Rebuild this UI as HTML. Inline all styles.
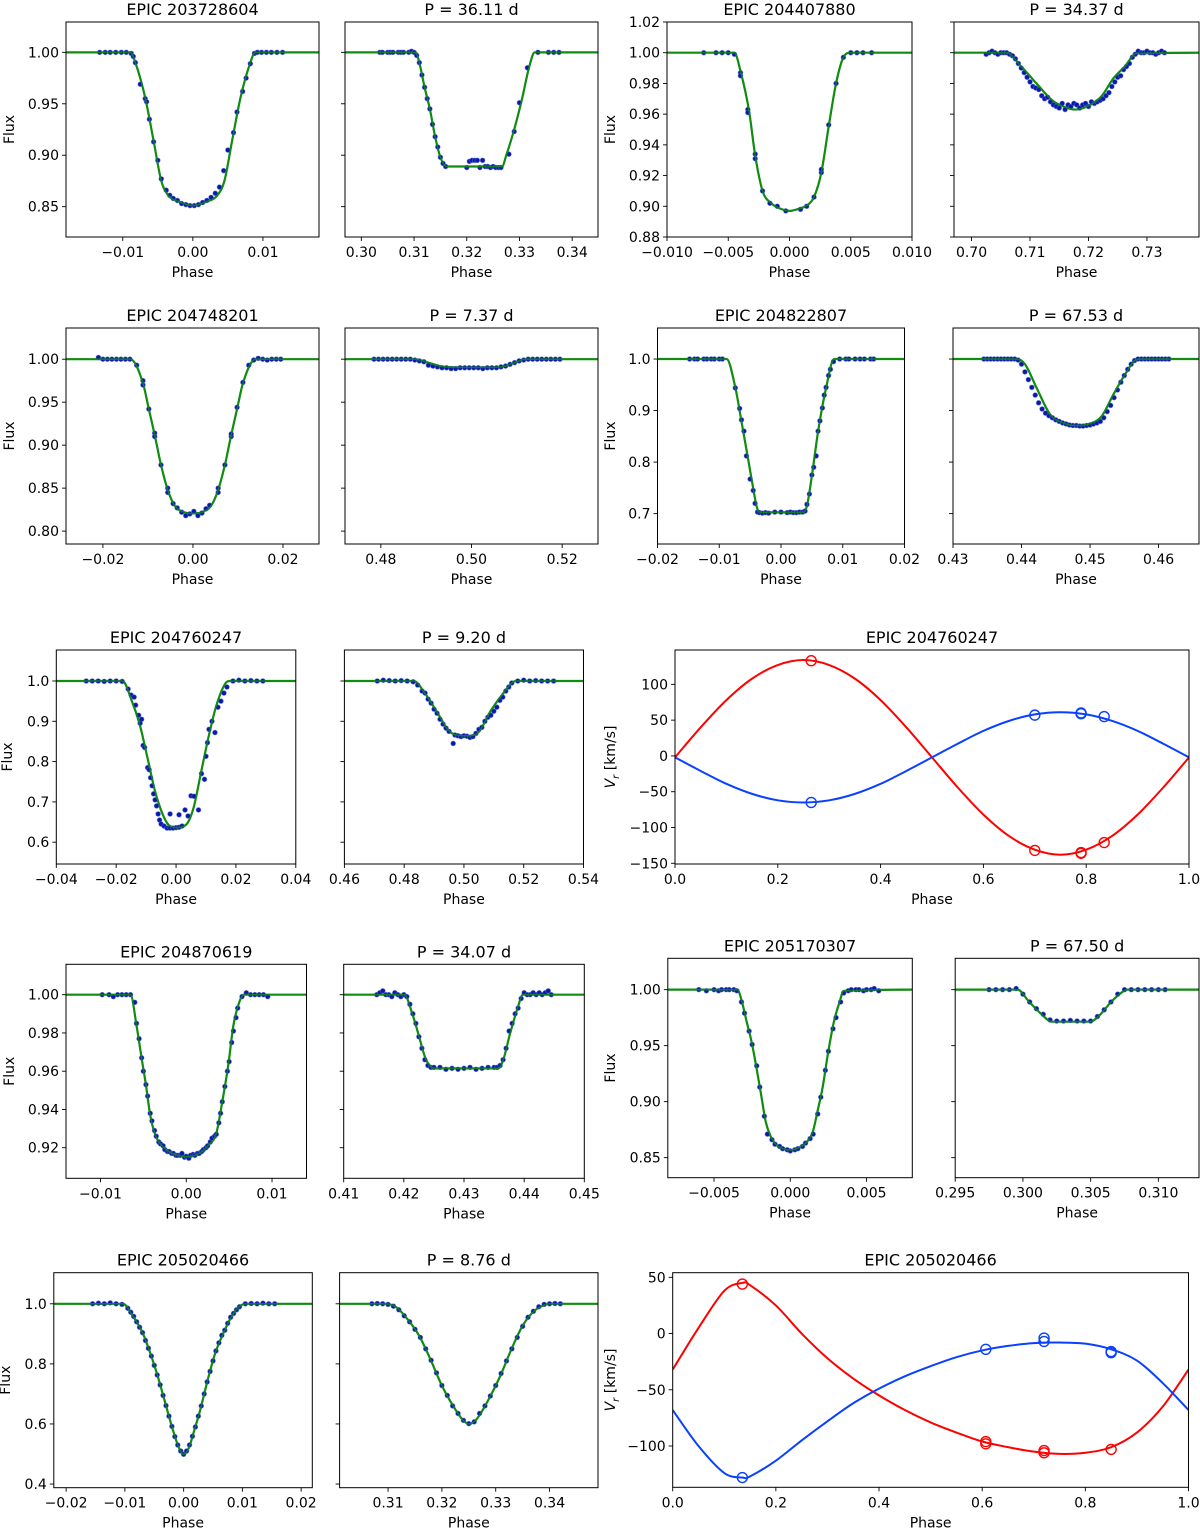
<!DOCTYPE html>
<html><head><meta charset="utf-8">
<style>
html,body{margin:0;padding:0;background:#fff;}
svg{display:block;font-family:"DejaVu Sans","Liberation Sans",sans-serif;}
</style></head>
<body>
<svg id="fig" xmlns="http://www.w3.org/2000/svg" width="1200" height="1530" viewBox="0 0 1200 1530"></svg>
<script>
// ---------- DATA ----------
const p1ModelX=[-0.0181,-0.0089,-0.0082,-0.0068,-0.0056,-0.0045,-0.0035,-0.002,0,0.002,0.0035,0.0045,0.0056,0.0068,0.0082,0.0089,0.0180];
const p1ModelY=[1,1,0.99,0.956,0.914,0.875,0.861,0.855,0.851,0.855,0.861,0.875,0.914,0.956,0.99,1,1];
const p1DataX=[-0.0133,-0.0125,-0.0118,-0.011,-0.0102,-0.0095,-0.0088,-0.0085,-0.0082,-0.0075,-0.0068,-0.0066,-0.0062,-0.0056,-0.005,-0.0045,-0.0038,-0.0033,-0.0028,-0.0022,-0.0016,-0.001,-0.0004,0.0002,0.0008,0.0014,0.002,0.0026,0.0032,0.0038,0.0044,0.005,0.0058,0.0063,0.0071,0.0076,0.0082,0.0088,0.0092,0.0098,0.0105,0.0112,0.0120,0.0128];
const p1DataY=[1,1,1,1,1,1,0.999,0.996,0.99,0.969,0.955,0.952,0.935,0.913,0.895,0.877,0.866,0.861,0.858,0.856,0.853,0.852,0.851,0.851,0.852,0.854,0.856,0.859,0.863,0.869,0.885,0.905,0.922,0.942,0.962,0.975,0.989,0.999,1,1,1,1,1,1];

const p2ModelX=[0.2969,0.3103,0.311,0.312,0.313,0.314,0.315,0.3162,0.3267,0.3275,0.329,0.3305,0.3318,0.3329,0.3449];
const p2ModelY=[1,1,0.99,0.966,0.945,0.918,0.898,0.889,0.889,0.9,0.925,0.955,0.985,1,1];
const p2DataX=[0.3035,0.304,0.305,0.3055,0.306,0.307,0.3075,0.308,0.309,0.3095,0.31,0.3105,0.311,0.3115,0.312,0.3125,0.313,0.3135,0.314,0.3145,0.315,0.3155,0.316,0.32,0.3205,0.321,0.3215,0.322,0.3225,0.323,0.3235,0.324,0.3245,0.325,0.3255,0.326,0.3265,0.328,0.329,0.33,0.3315,0.3335,0.3355,0.3365,0.3375];
const p2DataY=[1,1,1,1,1,1,1,1,1,1.001,1,0.997,0.99,0.978,0.966,0.955,0.945,0.93,0.918,0.908,0.898,0.892,0.889,0.888,0.894,0.895,0.895,0.895,0.888,0.895,0.889,0.889,0.888,0.889,0.888,0.888,0.888,0.901,0.923,0.951,0.985,1,1,1,1];

const p3ModelX=[-0.01,-0.0045,-0.004,-0.0033,-0.0028,-0.0022,-0.0015,-0.0006,0,0.0006,0.0015,0.002,0.0026,0.0032,0.0038,0.0044,0.005,0.01];
const p3ModelY=[1,1,0.988,0.962,0.933,0.91,0.902,0.898,0.897,0.898,0.901,0.906,0.922,0.952,0.98,0.997,1,1];
const p3DataX=[-0.007,-0.006,-0.0055,-0.005,-0.0045,-0.004,-0.004,-0.0034,-0.0034,-0.0028,-0.0028,-0.0022,-0.0016,-0.001,-0.0003,0.0009,0.0014,0.002,0.0026,0.0026,0.0032,0.0038,0.0044,0.005,0.0055,0.006,0.0067];
const p3DataY=[1,1,1,1,0.999,0.987,0.985,0.963,0.961,0.934,0.931,0.91,0.902,0.9,0.897,0.898,0.9,0.906,0.922,0.924,0.953,0.98,0.997,1,1,1,1];

const p4ModelX=[0.697,0.7059,0.7085,0.7111,0.7138,0.7157,0.7177,0.7203,0.7223,0.7242,0.7262,0.7282,0.7389];
const p4ModelY=[1,1,0.991,0.980,0.969,0.965,0.963,0.966,0.972,0.983,0.991,0.9995,1];
const p4DataX=[0.7025,0.703,0.7035,0.704,0.7045,0.705,0.7055,0.706,0.7065,0.707,0.7075,0.708,0.7085,0.709,0.7095,0.71,0.7105,0.711,0.7115,0.712,0.7125,0.713,0.7135,0.714,0.7145,0.715,0.7155,0.716,0.7165,0.717,0.7175,0.718,0.7185,0.719,0.7195,0.72,0.7205,0.721,0.7215,0.722,0.7225,0.723,0.7235,0.724,0.7245,0.725,0.7255,0.726,0.7265,0.727,0.7275,0.728,0.7285,0.729,0.7295,0.73,0.7305,0.731,0.7315,0.732,0.7325,0.733];
const p4DataY=[0.999,1,1.001,1,0.999,1,1,1,0.999,0.998,0.996,0.993,0.99,0.987,0.984,0.981,0.978,0.977,0.976,0.972,0.97,0.971,0.968,0.966,0.965,0.964,0.967,0.963,0.966,0.965,0.967,0.966,0.964,0.966,0.967,0.965,0.968,0.967,0.968,0.969,0.97,0.972,0.974,0.978,0.981,0.984,0.985,0.989,0.991,0.993,0.997,0.999,1.001,1,1,1.001,1,1,0.999,1,1.001,1];

const p5ModelX=[-0.0282,-0.0139,-0.0111,-0.0098,-0.0085,-0.0071,-0.0056,-0.0041,-0.002,0,0.002,0.0041,0.0056,0.0071,0.0085,0.0098,0.0111,0.0139,0.028];
const p5ModelY=[1,1,0.972,0.942,0.912,0.877,0.848,0.830,0.822,0.8206,0.822,0.830,0.848,0.877,0.912,0.942,0.972,1,1];
const p5DataX=[-0.021,-0.02,-0.019,-0.018,-0.017,-0.016,-0.015,-0.014,-0.0125,-0.0111,-0.0111,-0.0098,-0.0085,-0.0085,-0.0071,-0.0056,-0.0056,-0.0044,-0.0035,-0.0025,-0.0016,-0.0007,0.0002,0.0011,0.002,0.0029,0.0037,0.0056,0.0056,0.0071,0.0085,0.0085,0.0098,0.0111,0.0124,0.0135,0.0145,0.0155,0.0165,0.0175,0.0185,0.0195];
const p5DataY=[1.002,1,1,1,1,1,1,1,0.993,0.975,0.97,0.942,0.914,0.91,0.877,0.85,0.845,0.832,0.827,0.822,0.818,0.82,0.823,0.818,0.821,0.826,0.83,0.85,0.845,0.877,0.91,0.913,0.944,0.973,0.993,0.999,1.001,1,0.999,1,1,1];

const p6ModelX=[0.4721,0.4875,0.4905,0.4935,0.497,0.504,0.507,0.5095,0.512,0.5279];
const p6ModelY=[1,1,0.996,0.9915,0.9905,0.9905,0.9915,0.996,1,1];
const p6DataX=[0.4785,0.4795,0.4805,0.4815,0.4825,0.4835,0.4845,0.4855,0.4865,0.4875,0.4885,0.4895,0.4905,0.4915,0.4925,0.4935,0.4945,0.4955,0.4965,0.4975,0.4985,0.4995,0.5005,0.5015,0.5025,0.5035,0.5045,0.5055,0.5065,0.5075,0.5085,0.5095,0.5105,0.5115,0.5125,0.5135,0.5145,0.5155,0.5165,0.5175,0.5185,0.5195];
const p6DataY=[1,1,1,1,1,1,1,1,1,0.999,0.998,0.997,0.993,0.992,0.991,0.99,0.99,0.989,0.989,0.99,0.99,0.99,0.99,0.99,0.989,0.99,0.99,0.99,0.991,0.992,0.994,0.996,0.998,0.999,1,1,1,1,1,1,1,1];

const p7ModelX=[-0.02,-0.0088,-0.0074,-0.0064,-0.0054,-0.0045,-0.0039,-0.0034,0.0036,0.0042,0.0051,0.006,0.0073,0.0086,0.02];
const p7ModelY=[1,1,0.945,0.879,0.811,0.749,0.712,0.7025,0.7025,0.715,0.782,0.859,0.944,1,1];
const p7DataX=[-0.0148,-0.014,-0.0135,-0.0125,-0.012,-0.0113,-0.0108,-0.01,-0.0095,-0.0074,-0.0067,-0.0064,-0.006,-0.0056,-0.005,-0.0045,-0.0042,-0.0038,-0.0035,-0.003,-0.0025,-0.002,-0.001,0,0.001,0.0015,0.002,0.0025,0.003,0.0035,0.0039,0.0042,0.0046,0.005,0.0053,0.0057,0.006,0.0063,0.0067,0.007,0.0073,0.0077,0.008,0.0085,0.0095,0.0105,0.011,0.012,0.0128,0.0135,0.0145,0.015];
const p7DataY=[1,1,1,1,1,1,1,1,1,0.944,0.904,0.882,0.86,0.812,0.767,0.745,0.72,0.703,0.702,0.701,0.702,0.701,0.703,0.703,0.702,0.703,0.702,0.702,0.703,0.703,0.705,0.718,0.738,0.775,0.79,0.812,0.86,0.88,0.905,0.93,0.945,0.968,0.98,0.995,1,1,1,1,1,1,1,1];

const p8ModelX=[0.43,0.4392,0.4405,0.4422,0.4442,0.4461,0.4478,0.4501,0.4517,0.4534,0.4551,0.4568,0.458,0.4659];
const p8ModelY=[1,1,0.99,0.944,0.892,0.876,0.871,0.875,0.889,0.931,0.970,0.999,1,1];
const p8DataX=[0.4345,0.435,0.4355,0.436,0.4365,0.437,0.4375,0.438,0.4385,0.439,0.4395,0.44,0.4405,0.441,0.4415,0.442,0.4425,0.443,0.4435,0.444,0.4445,0.445,0.4455,0.446,0.4465,0.447,0.4475,0.448,0.4485,0.449,0.4495,0.45,0.4505,0.451,0.4515,0.452,0.4525,0.453,0.4535,0.454,0.4545,0.455,0.4555,0.456,0.4565,0.457,0.4575,0.458,0.4585,0.459,0.4595,0.46,0.4605,0.461,0.4615];
const p8DataY=[1,1,1,1,1,1,1,1,1,1,0.998,0.99,0.975,0.96,0.945,0.93,0.915,0.903,0.895,0.89,0.886,0.882,0.879,0.876,0.874,0.872,0.871,0.871,0.87,0.87,0.871,0.872,0.874,0.876,0.879,0.886,0.898,0.91,0.925,0.94,0.955,0.968,0.98,0.99,0.997,1,1,1,1,1,1,1,1,1,1];

const p9ModelX=[-0.04,-0.0179,-0.0147,-0.0121,-0.0095,-0.007,-0.0044,-0.0025,0,0.0033,0.0058,0.0084,0.011,0.0135,0.0167,0.018,0.04];
const p9ModelY=[1,1,0.949,0.891,0.808,0.726,0.668,0.643,0.636,0.643,0.684,0.775,0.866,0.94,0.996,1,1];
const p9DataX=[-0.03,-0.028,-0.026,-0.024,-0.022,-0.02,-0.018,-0.016,-0.015,-0.014,-0.0135,-0.0125,-0.012,-0.0115,-0.011,-0.0105,-0.0095,-0.009,-0.0085,-0.008,-0.0075,-0.007,-0.0065,-0.006,-0.0055,-0.005,-0.004,-0.003,-0.002,-0.001,0,0.001,0.002,-0.002,0.001,0.003,0.004,0.005,0.006,0.0075,0.0085,0.0095,0.01,0.0105,0.011,0.012,0.013,0.014,0.015,0.016,0.017,0.019,0.021,0.023,0.025,0.027,0.029];
const p9DataY=[1,1,1,0.999,1,1,0.999,0.98,0.965,0.96,0.94,0.915,0.895,0.905,0.84,0.835,0.785,0.78,0.76,0.74,0.72,0.705,0.69,0.67,0.655,0.645,0.64,0.635,0.635,0.635,0.636,0.637,0.64,0.67,0.668,0.68,0.665,0.715,0.714,0.68,0.77,0.756,0.813,0.847,0.88,0.9,0.872,0.935,0.95,0.97,0.985,1,1.002,1,1.001,1,1];

const p10ModelX=[0.46,0.4832,0.487,0.4909,0.4947,0.4973,0.5011,0.505,0.5088,0.5127,0.5165,0.5178,0.54];
const p10ModelY=[1,1,0.969,0.924,0.879,0.866,0.864,0.874,0.924,0.965,0.998,1,1];
const p10DataX=[0.471,0.473,0.475,0.477,0.479,0.481,0.483,0.4845,0.486,0.487,0.488,0.489,0.49,0.491,0.492,0.493,0.494,0.495,0.4964,0.497,0.498,0.499,0.5,0.501,0.502,0.503,0.504,0.505,0.506,0.507,0.508,0.509,0.51,0.511,0.512,0.513,0.514,0.515,0.516,0.518,0.52,0.522,0.524,0.526,0.528,0.53];
const p10DataY=[1,1.002,1.001,1,1.001,1,0.998,0.99,0.975,0.97,0.955,0.945,0.93,0.92,0.905,0.893,0.883,0.875,0.845,0.866,0.864,0.862,0.864,0.863,0.86,0.862,0.87,0.88,0.885,0.9,0.91,0.915,0.925,0.935,0.952,0.96,0.975,0.985,0.995,1,1.002,1,1.001,1,1,1];

const p11ModelX=[-0.01402,-0.0065,-0.0058,-0.0052,-0.0047,-0.0042,-0.0036,-0.0027,-0.0016,0,0.0015,0.0026,0.0035,0.0042,0.0049,0.0055,0.0062,0.0067,0.01402];
const p11ModelY=[1,1,0.984,0.9667,0.9528,0.937,0.9266,0.9205,0.917,0.9153,0.917,0.9214,0.9275,0.944,0.9632,0.984,0.9963,1,1];
const p11DataX=[-0.0098,-0.009,-0.0085,-0.008,-0.0075,-0.007,-0.0065,-0.006,-0.0058,-0.0055,-0.0052,-0.005,-0.0047,-0.0045,-0.0042,-0.004,-0.0037,-0.0035,-0.0032,-0.003,-0.0027,-0.0025,-0.0022,-0.002,-0.0017,-0.0015,-0.0012,-0.001,-0.0007,-0.0005,-0.0002,0,0.0003,0.0005,0.0008,0.001,0.0013,0.0015,0.0018,0.002,0.0023,0.0025,0.0028,0.003,0.0033,0.0035,0.0038,0.004,0.0042,0.0045,0.0048,0.005,0.0053,0.0055,0.0058,0.006,0.0065,0.007,0.0075,0.008,0.0085,0.009,0.0095];
const p11DataY=[1,1,0.999,1,1,1,1,0.996,0.985,0.977,0.967,0.96,0.953,0.947,0.938,0.934,0.929,0.926,0.923,0.922,0.921,0.919,0.918,0.918,0.917,0.917,0.916,0.916,0.916,0.917,0.915,0.9155,0.9145,0.916,0.9165,0.916,0.917,0.917,0.918,0.919,0.92,0.921,0.923,0.925,0.926,0.927,0.933,0.938,0.944,0.952,0.96,0.965,0.975,0.981,0.988,0.993,0.999,1.001,1,1,1,1,0.999];

const p12ModelX=[0.41,0.4201,0.4213,0.4223,0.4236,0.4245,0.4252,0.4357,0.4366,0.4376,0.4389,0.4398,0.45];
const p12ModelY=[1,1,0.9911,0.9807,0.9667,0.9623,0.9615,0.9615,0.9667,0.979,0.9929,1,1];
const p12DataX=[0.4155,0.416,0.4165,0.417,0.4175,0.418,0.4185,0.419,0.4195,0.42,0.4205,0.421,0.4215,0.422,0.4225,0.423,0.4235,0.424,0.4245,0.425,0.426,0.427,0.428,0.429,0.43,0.431,0.432,0.433,0.434,0.435,0.4355,0.436,0.4365,0.437,0.4375,0.438,0.4385,0.439,0.4395,0.44,0.4405,0.441,0.4415,0.442,0.4425,0.443,0.4435,0.444,0.4445];
const p12DataY=[1,1.001,1.002,1,1,0.999,1.001,1,0.999,1,0.999,0.995,0.99,0.985,0.978,0.972,0.966,0.963,0.962,0.962,0.962,0.961,0.9615,0.961,0.9615,0.962,0.961,0.9615,0.962,0.962,0.962,0.963,0.966,0.972,0.981,0.985,0.99,0.993,0.998,1.001,1,1,1.001,1,1.001,1,1.001,1.002,1];

const p13ModelX=[-0.00803,-0.00347,-0.00317,-0.00286,-0.00254,-0.00221,-0.00191,-0.00161,-0.00128,-0.0009,-0.0004,0,0.0005,0.0011,0.00148,0.00178,0.00211,0.00249,0.00286,0.00324,0.00349,0.008];
const p13ModelY=[1,1,0.9893,0.9714,0.9536,0.9298,0.906,0.8821,0.8688,0.8613,0.8577,0.8568,0.8585,0.8643,0.8732,0.8911,0.9119,0.9446,0.9714,0.9893,0.9988,1];
const p13DataX=[-0.006,-0.0055,-0.005,-0.0047,-0.0045,-0.0042,-0.004,-0.0037,-0.0035,-0.0032,-0.003,-0.0027,-0.0025,-0.0022,-0.002,-0.0017,-0.0015,-0.0012,-0.001,-0.0007,-0.0005,-0.0002,0,0.0003,0.0005,0.0008,0.001,0.0013,0.0015,0.0018,0.002,0.0023,0.0025,0.0028,0.003,0.0033,0.0035,0.0038,0.004,0.0043,0.0045,0.0048,0.005,0.0053,0.0055,0.0058];
const p13DataY=[1,0.999,1,0.999,1,1,1,1,0.999,0.989,0.979,0.963,0.951,0.932,0.913,0.887,0.871,0.866,0.862,0.86,0.858,0.857,0.856,0.857,0.858,0.86,0.863,0.867,0.871,0.889,0.904,0.928,0.945,0.965,0.975,0.989,0.997,0.999,1,1,1,0.999,1,1,1.001,0.999];

const p14ModelX=[0.295,0.2996,0.30045,0.3013,0.30215,0.30497,0.30568,0.30653,0.30737,0.30766,0.313];
const p14ModelY=[1,1,0.9893,0.9789,0.9714,0.9714,0.9774,0.9893,0.9982,1,1];
const p14DataX=[0.2975,0.298,0.2985,0.299,0.2995,0.3,0.3005,0.301,0.3015,0.302,0.3025,0.303,0.3035,0.304,0.3045,0.305,0.3055,0.306,0.3065,0.307,0.3075,0.308,0.3085,0.309,0.3095,0.31,0.3105];
const p14DataY=[1,1,1,1,1.001,0.996,0.989,0.983,0.978,0.973,0.972,0.972,0.9725,0.972,0.972,0.972,0.976,0.982,0.989,0.996,1,1,1,1,1,1,1];

const p15ModelX=[-0.0221,-0.0103,-0.0087,-0.007,-0.0057,-0.0044,-0.0031,-0.0018,-0.0008,0,0.0009,0.0018,0.0028,0.0041,0.0054,0.0068,0.0084,0.0097,0.0107,0.0219];
const p15ModelY=[1,1,0.961,0.904,0.837,0.758,0.668,0.578,0.521,0.499,0.521,0.578,0.645,0.747,0.837,0.904,0.966,0.994,1,1];
const p15DataX=[-0.0155,-0.0145,-0.0135,-0.0125,-0.0115,-0.0105,-0.0095,-0.009,-0.0085,-0.008,-0.0075,-0.007,-0.0065,-0.006,-0.0055,-0.005,-0.0045,-0.004,-0.0035,-0.003,-0.0025,-0.002,-0.0015,-0.001,-0.0005,0,0.0005,0.001,0.0015,0.002,0.0025,0.003,0.0035,0.004,0.0045,0.005,0.0055,0.006,0.0065,0.007,0.0075,0.008,0.0085,0.009,0.0095,0.0105,0.0115,0.0125,0.0135,0.0145,0.0155];
const p15DataY=[1,1.002,1,1.003,1,0.998,0.985,0.972,0.958,0.94,0.922,0.904,0.878,0.852,0.826,0.795,0.763,0.73,0.695,0.661,0.626,0.592,0.558,0.53,0.51,0.499,0.51,0.53,0.559,0.59,0.626,0.66,0.7,0.74,0.775,0.81,0.843,0.87,0.895,0.912,0.935,0.955,0.968,0.98,0.99,1,1.001,1,1.002,1,1];

const p16ModelX=[0.301,0.3094,0.3115,0.3136,0.3158,0.3179,0.3201,0.3222,0.324,0.3251,0.3265,0.3286,0.3308,0.3329,0.335,0.3372,0.3394,0.3401,0.349];
const p16ModelY=[1,1,0.989,0.949,0.893,0.814,0.724,0.657,0.611,0.6,0.617,0.679,0.758,0.848,0.927,0.977,0.998,1,1];
const p16DataX=[0.307,0.308,0.309,0.31,0.311,0.312,0.313,0.314,0.315,0.316,0.317,0.318,0.319,0.32,0.321,0.322,0.323,0.324,0.325,0.326,0.327,0.328,0.329,0.33,0.331,0.332,0.333,0.334,0.335,0.336,0.337,0.338,0.339,0.34,0.341,0.342];
const p16DataY=[1,1.001,1,0.998,0.992,0.98,0.96,0.94,0.915,0.888,0.85,0.812,0.77,0.728,0.695,0.66,0.635,0.612,0.601,0.607,0.635,0.66,0.693,0.728,0.768,0.81,0.85,0.888,0.925,0.955,0.975,0.99,0.998,1,1.001,1];

// Radial velocity: EPIC 204760247
const rv1Phase=[0,0.05,0.1,0.15,0.2,0.25,0.3,0.35,0.4,0.45,0.5,0.55,0.6,0.65,0.7,0.75,0.8,0.85,0.9,0.95,1];
const rv1Red=[-2,40,78,108,127,134,127,108,78,40,-2,-44,-82,-112,-131,-138,-131,-112,-82,-44,-2];
const rv1Blue=[-2,-21,-39,-53,-62,-65,-62,-53,-39,-21,-2,17,35,49,58,61,58,49,35,17,-2];
const rv1RedObsX=[0.265,0.70,0.79,0.79,0.835];
const rv1RedObsY=[133,-132,-135,-136,-121];
const rv1BlueObsX=[0.265,0.70,0.79,0.79,0.835];
const rv1BlueObsY=[-65,57,60,59,55];
// Radial velocity: EPIC 205020466
const rv2Phase=[0,0.05,0.1,0.135,0.15,0.2,0.25,0.3,0.35,0.4,0.45,0.5,0.55,0.6,0.65,0.7,0.75,0.8,0.85,0.9,0.95,1];
const rv2Red=[-32,5,38,45,43,25,0,-22,-40,-55,-68,-79,-88,-96,-101,-105,-107,-106,-101,-88,-65,-32];
const rv2Blue=[-68,-100,-124,-128,-127,-113,-95,-78,-62,-49,-38,-29,-21,-15,-11,-8.5,-8,-9,-14,-24,-44,-68];
const rv2RedObsX=[0.135,0.607,0.607,0.72,0.72,0.85];
const rv2RedObsY=[44,-96,-98,-104,-106,-103];
const rv2BlueObsX=[0.135,0.607,0.72,0.72,0.85,0.85];
const rv2BlueObsY=[-128,-14,-4,-7,-16,-17];

// ---------- RENDER ----------
const NS='http://www.w3.org/2000/svg';
const svg=document.getElementById('fig');
function mk(tag,attrs,parent){const e=document.createElementNS(NS,tag);for(const k in attrs)e.setAttribute(k,attrs[k]);(parent||svg).appendChild(e);return e;}
function fmtTick(v,d){const s=Math.abs(v).toFixed(d);return (v<-1e-12?'\u2212':'')+s;}

function monoPath(px,py){
  const n=px.length;if(n<2)return '';
  const d=[],m=new Array(n);
  for(let i=0;i<n-1;i++)d.push((py[i+1]-py[i])/(px[i+1]-px[i]));
  m[0]=d[0];m[n-1]=d[n-2];
  for(let i=1;i<n-1;i++){m[i]=(d[i-1]*d[i]<=0)?0:(d[i-1]+d[i])/2;}
  for(let i=0;i<n-1;i++){if(d[i]===0){m[i]=0;m[i+1]=0;continue;}const a=m[i]/d[i],b=m[i+1]/d[i],s=a*a+b*b;if(s>9){const t=3/Math.sqrt(s);m[i]=t*a*d[i];m[i+1]=t*b*d[i];}}
  let p='M'+px[0].toFixed(2)+','+py[0].toFixed(2);
  for(let i=0;i<n-1;i++){const h=(px[i+1]-px[i])/3;p+=' C'+(px[i]+h).toFixed(2)+','+(py[i]+m[i]*h).toFixed(2)+' '+(px[i+1]-h).toFixed(2)+','+(py[i+1]-m[i+1]*h).toFixed(2)+' '+px[i+1].toFixed(2)+','+py[i+1].toFixed(2);}
  return p;
}
function crPath(px,py){
  let p='M'+px[0].toFixed(2)+','+py[0].toFixed(2);const n=px.length;
  for(let i=0;i<n-1;i++){const x0=px[Math.max(i-1,0)],y0=py[Math.max(i-1,0)],x3=px[Math.min(i+2,n-1)],y3=py[Math.min(i+2,n-1)];
    const c1x=px[i]+(px[i+1]-x0)/6,c1y=py[i]+(py[i+1]-y0)/6,c2x=px[i+1]-(x3-px[i])/6,c2y=py[i+1]-(y3-py[i])/6;
    p+=' C'+c1x.toFixed(2)+','+c1y.toFixed(2)+' '+c2x.toFixed(2)+','+c2y.toFixed(2)+' '+px[i+1].toFixed(2)+','+py[i+1].toFixed(2);}
  return p;
}

let clipId=0;
function axes(cfg){
  const g=mk('g',{});
  
  
  const X=v=>cfg.L+(v-cfg.xlim[0])/(cfg.xlim[1]-cfg.xlim[0])*(cfg.R-cfg.L);
  const Y=v=>cfg.B-(v-cfg.ylim[0])/(cfg.ylim[1]-cfg.ylim[0])*(cfg.B-cfg.T);
  const cid='c'+(clipId++);
  const cp=mk('clipPath',{id:cid},g);mk('rect',{x:cfg.L,y:cfg.T,width:cfg.R-cfg.L,height:cfg.B-cfg.T},cp);
  const plot=mk('g',{'clip-path':'url(#'+cid+')'},g);
  
  
  cfg.xticks.forEach((v,i)=>{const x=X(v);
    const t=mk('line',{x1:x,x2:x,y1:cfg.B,y2:cfg.B+4,stroke:'#000','stroke-width':0.9},g);
    
    const tl=mk('text',{x:x,y:cfg.B+20,'font-size':14,'text-anchor':'middle',fill:'#000'},g);tl.textContent=fmtTick(v,cfg.xdec);
    });
  cfg.yticks.forEach(v=>{const y=Y(v);
    const t=mk('line',{x1:cfg.L-4,x2:cfg.L,y1:y,y2:y,stroke:'#000','stroke-width':0.9},g);
    
    if(cfg.ylabels){const tl=mk('text',{x:cfg.L-7,y:y+5,'font-size':14,'text-anchor':'end',fill:'#000'},g);tl.textContent=fmtTick(v,cfg.ydec);
      }});
  if(cfg.model){
    const pth=mk('path',{d:monoPath(cfg.model[0].map(X),cfg.model[1].map(Y)),fill:'none',stroke:'#108c10','stroke-width':2.2},plot);
    
    const n=Math.min(cfg.data[0].length,cfg.data[1].length);
    for(let i=0;i<n;i++){
      const c=mk('circle',{cx:X(cfg.data[0][i]),cy:Y(cfg.data[1][i]),r:2.4,fill:'#0a1aa8',stroke:'#5a6ad8','stroke-width':0.8,'stroke-opacity':0.6},plot);
      }
    const p2=mk('path',{d:monoPath(cfg.model[0].map(X),cfg.model[1].map(Y)),fill:'none',stroke:'#108c10','stroke-width':1.6,'stroke-opacity':0.8},plot);
    
  }
  if(cfg.rv){
    cfg.rv.forEach(s=>{
      const pth=mk('path',{d:crPath(s.phase.map(X),s.vals.map(Y)),fill:'none',stroke:s.color,'stroke-width':2},plot);
      
      const n=Math.min(s.ox.length,s.oy.length);
      for(let i=0;i<n;i++){const c=mk('circle',{cx:X(s.ox[i]),cy:Y(s.oy[i]),r:5,fill:'none',stroke:s.color,'stroke-width':1.4},plot);
        }
    });
  }
  const fr=mk('rect',{x:cfg.L,y:cfg.T,width:cfg.R-cfg.L,height:cfg.B-cfg.T,fill:'none',stroke:'#000','stroke-width':1},g);
  
  const ti=mk('text',{x:(cfg.L+cfg.R)/2,y:cfg.T-7,'font-size':16,'text-anchor':'middle',fill:'#000'},g);ti.textContent=cfg.title;
  
  const xl=mk('text',{x:(cfg.L+cfg.R)/2,y:cfg.B+40,'font-size':14,'text-anchor':'middle',fill:'#000'},g);xl.textContent='Phase';
  
  if(cfg.ytitle){const cy=(cfg.T+cfg.B)/2;
    const yl=mk('text',{x:cfg.ytx,y:cy,'font-size':14,'text-anchor':'middle',fill:'#000',transform:'rotate(-90 '+cfg.ytx+' '+cy+')'},g);
    
    if(cfg.ytitle==='Vr'){const a=mk('tspan',{'font-style':'italic'},yl);a.textContent='V';const b=mk('tspan',{'font-style':'italic','font-size':10,dy:4},yl);b.textContent='r';const c=mk('tspan',{dy:-4},yl);c.textContent=' [km/s]';}
    else yl.textContent=cfg.ytitle;}
}
const rng=(a,b,s)=>{const r=[];for(let v=a;v<=b+s*1e-6;v+=s)r.push(+v.toFixed(6));return r;};

// Row 1
axes({name:'panel-epic-203728604',L:66,R:319,T:22,B:237,xlim:[-0.0181,0.0180],ylim:[0.8205,1.0295],xticks:[-0.01,0,0.01],xdec:2,yticks:[0.85,0.90,0.95,1.00],ydec:2,ylabels:true,title:'EPIC 203728604',ytitle:'Flux',ytx:14,model:[p1ModelX,p1ModelY],data:[p1DataX,p1DataY]});
axes({name:'panel-p-36-11',L:345,R:598,T:22,B:237,xlim:[0.2969,0.3449],ylim:[0.8205,1.0295],xticks:[0.30,0.31,0.32,0.33,0.34],xdec:2,yticks:[0.85,0.90,0.95,1.00],ylabels:false,title:'P = 36.11 d',model:[p2ModelX,p2ModelY],data:[p2DataX,p2DataY]});
axes({name:'panel-epic-204407880',L:667,R:912,T:22,B:237,xlim:[-0.01,0.01],ylim:[0.88,1.02],xticks:[-0.01,-0.005,0,0.005,0.01],xdec:3,yticks:rng(0.88,1.02,0.02),ydec:2,ylabels:true,title:'EPIC 204407880',ytitle:'Flux',ytx:615,model:[p3ModelX,p3ModelY],data:[p3DataX,p3DataY]});
axes({name:'panel-p-34-37',L:954,R:1199,T:22,B:237,xlim:[0.697,0.7389],ylim:[0.88,1.02],xticks:[0.70,0.71,0.72,0.73],xdec:2,yticks:rng(0.88,1.02,0.02),ylabels:false,title:'P = 34.37 d',model:[p4ModelX,p4ModelY],data:[p4DataX,p4DataY]});
// Row 2
axes({name:'panel-epic-204748201',L:66,R:319,T:328,B:544,xlim:[-0.0282,0.028],ylim:[0.785,1.0363],xticks:[-0.02,0,0.02],xdec:2,yticks:[0.80,0.85,0.90,0.95,1.00],ydec:2,ylabels:true,title:'EPIC 204748201',ytitle:'Flux',ytx:14,model:[p5ModelX,p5ModelY],data:[p5DataX,p5DataY]});
axes({name:'panel-p-7-37',L:345,R:598,T:328,B:544,xlim:[0.4721,0.5279],ylim:[0.785,1.0363],xticks:[0.48,0.50,0.52],xdec:2,yticks:[0.80,0.85,0.90,0.95,1.00],ylabels:false,title:'P = 7.37 d',model:[p6ModelX,p6ModelY],data:[p6DataX,p6DataY]});
axes({name:'panel-epic-204822807',L:657.5,R:904.5,T:328,B:544,xlim:[-0.02,0.02],ylim:[0.6411,1.0602],xticks:[-0.02,-0.01,0,0.01,0.02],xdec:2,yticks:[0.7,0.8,0.9,1.0],ydec:1,ylabels:true,title:'EPIC 204822807',ytitle:'Flux',ytx:615,model:[p7ModelX,p7ModelY],data:[p7DataX,p7DataY]});
axes({name:'panel-p-67-53',L:953,R:1199,T:328,B:544,xlim:[0.43,0.4659],ylim:[0.6411,1.0602],xticks:[0.43,0.44,0.45,0.46],xdec:2,yticks:[0.7,0.8,0.9,1.0],ylabels:false,title:'P = 67.53 d',model:[p8ModelX,p8ModelY],data:[p8DataX,p8DataY]});
// Row 3
axes({name:'panel-epic-204760247',L:56.3,R:295.8,T:650,B:864,xlim:[-0.04,0.04],ylim:[0.5459,1.0769],xticks:[-0.04,-0.02,0,0.02,0.04],xdec:2,yticks:[0.6,0.7,0.8,0.9,1.0],ydec:1,ylabels:true,title:'EPIC 204760247',ytitle:'Flux',ytx:12,model:[p9ModelX,p9ModelY],data:[p9DataX,p9DataY]});
axes({name:'panel-p-9-20',L:344.4,R:583.5,T:650,B:864,xlim:[0.46,0.54],ylim:[0.5459,1.0769],xticks:[0.46,0.48,0.50,0.52,0.54],xdec:2,yticks:[0.6,0.7,0.8,0.9,1.0],ylabels:false,title:'P = 9.20 d',model:[p10ModelX,p10ModelY],data:[p10DataX,p10DataY]});
axes({name:'rv-epic-204760247',L:675,R:1189,T:650,B:864,xlim:[0,1],ylim:[-151,148],xticks:[0,0.2,0.4,0.6,0.8,1.0],xdec:1,yticks:[-150,-100,-50,0,50,100],ydec:0,ylabels:true,title:'EPIC 204760247',ytitle:'Vr',ytx:615,
  rv:[{phase:rv1Phase,vals:rv1Red,ox:rv1RedObsX,oy:rv1RedObsY,color:'#ff0000',lname:'primary-rv-curve',pname:'primary-rv-point'},
      {phase:rv1Phase,vals:rv1Blue,ox:rv1BlueObsX,oy:rv1BlueObsY,color:'#0a40ff',lname:'secondary-rv-curve',pname:'secondary-rv-point'}]});
// Row 4
axes({name:'panel-epic-204870619',L:66,R:306.5,T:964.3,B:1178.3,xlim:[-0.01402,0.01402],ylim:[0.904,1.0159],xticks:[-0.01,0,0.01],xdec:2,yticks:[0.92,0.94,0.96,0.98,1.00],ydec:2,ylabels:true,title:'EPIC 204870619',ytitle:'Flux',ytx:14,model:[p11ModelX,p11ModelY],data:[p11DataX,p11DataY]});
axes({name:'panel-p-34-07',L:343.7,R:584.3,T:964.3,B:1178.3,xlim:[0.41,0.45],ylim:[0.904,1.0159],xticks:[0.41,0.42,0.43,0.44,0.45],xdec:2,yticks:[0.92,0.94,0.96,0.98,1.00],ylabels:false,title:'P = 34.07 d',model:[p12ModelX,p12ModelY],data:[p12DataX,p12DataY]});
axes({name:'panel-epic-205170307',L:667.8,R:912.3,T:958.3,B:1177.7,xlim:[-0.00803,0.008],ylim:[0.8321,1.028],xticks:[-0.005,0,0.005],xdec:3,yticks:[0.85,0.90,0.95,1.00],ydec:2,ylabels:true,title:'EPIC 205170307',ytitle:'Flux',ytx:615,model:[p13ModelX,p13ModelY],data:[p13DataX,p13DataY]});
axes({name:'panel-p-67-50',L:955.2,R:1199,T:958.3,B:1177.7,xlim:[0.295,0.313],ylim:[0.8321,1.028],xticks:[0.295,0.300,0.305,0.310],xdec:3,yticks:[0.85,0.90,0.95,1.00],ylabels:false,title:'P = 67.50 d',model:[p14ModelX,p14ModelY],data:[p14DataX,p14DataY]});
// Row 5
axes({name:'panel-epic-205020466',L:53.8,R:312.3,T:1272.7,B:1487.7,xlim:[-0.0221,0.0219],ylim:[0.3878,1.1035],xticks:[-0.02,-0.01,0,0.01,0.02],xdec:2,yticks:[0.4,0.6,0.8,1.0],ydec:1,ylabels:true,title:'EPIC 205020466',ytitle:'Flux',ytx:10,model:[p15ModelX,p15ModelY],data:[p15DataX,p15DataY]});
axes({name:'panel-p-8-76',L:339.6,R:598,T:1272.7,B:1487.7,xlim:[0.301,0.349],ylim:[0.3878,1.1035],xticks:[0.31,0.32,0.33,0.34],xdec:2,yticks:[0.4,0.6,0.8,1.0],ylabels:false,title:'P = 8.76 d',model:[p16ModelX,p16ModelY],data:[p16DataX,p16DataY]});
axes({name:'rv-epic-205020466',L:672.7,R:1188.5,T:1272.7,B:1487.3,xlim:[0,1],ylim:[-136.7,54.1],xticks:[0,0.2,0.4,0.6,0.8,1.0],xdec:1,yticks:[-100,-50,0,50],ydec:0,ylabels:true,title:'EPIC 205020466',ytitle:'Vr',ytx:615,
  rv:[{phase:rv2Phase,vals:rv2Red,ox:rv2RedObsX,oy:rv2RedObsY,color:'#ff0000',lname:'primary-rv-curve',pname:'primary-rv-point'},
      {phase:rv2Phase,vals:rv2Blue,ox:rv2BlueObsX,oy:rv2BlueObsY,color:'#0a40ff',lname:'secondary-rv-curve',pname:'secondary-rv-point'}]});
</script>
</body></html>
